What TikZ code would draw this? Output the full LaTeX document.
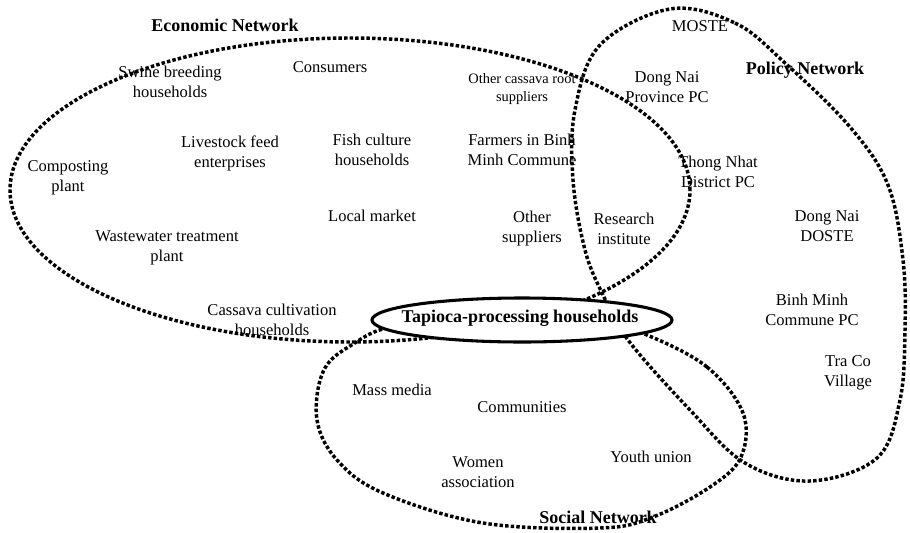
\documentclass[tikz,border=0pt]{standalone}
\usepackage{fontspec}
\setmainfont{Liberation Serif}
\usetikzlibrary{shapes.geometric}

\begin{document}
\begin{tikzpicture}[x=0.75pt,y=-0.75pt,
netloop/.style={line width=2.6pt,dash pattern=on 2.6pt off 1.6pt},
actor/.style={align=center,font=\fontsize{12.4}{15}\selectfont,inner sep=1pt},
netname/.style={font=\fontsize{13.5}{16}\selectfont\bfseries,inner sep=1pt}]
\useasboundingbox (0,0) rectangle (910,532);
% network boundaries
\draw[netloop] (350,190) ellipse [x radius=255pt,y radius=114pt];
\draw[netloop] plot[smooth cycle,tension=.6] coordinates {(670,9) (735,23) (785,63) (850,127) (888,185) (903,260) (905,330) (900,400) (877,458) (810,481) (745,463) (690,410) (628,340) (603,295) (585,250) (573,180) (575,110) (600,45)};
\draw[netloop] plot[smooth cycle,tension=.6] coordinates {(647,335) (707,367) (743,413) (741,457) (710,487) (653,517) (600,528) (483,523) (383,493) (337,460) (317,420) (323,372) (350,346) (400,325) (520,318) (600,322)};
\node[draw,ellipse,line width=2.3pt,fill=white,minimum width=225pt,minimum height=33pt,inner sep=0pt](tapioca) at (522,320){};
\node[netname] (tapiocatxt) at (520,318) {Tapioca-processing households};
% economic network
\node[netname] (econ) at (225,25) {Economic Network};
\node[actor] (swine) at (170,82) {Swine breeding\\households};
\node[actor] (consumers) at (330,67) {Consumers};
\node[actor,font=\fontsize{10.8}{14}\selectfont] (cassavaroot) at (522,89) {Other cassava root\\suppliers};
\node[actor] (livestock) at (230,153) {Livestock feed\\enterprises};
\node[actor] (fish) at (372,150) {Fish culture\\households};
\node[actor] (farmers) at (522,150) {Farmers in Binh\\Minh Commune};
\node[actor] (compost) at (68,178) {Composting\\plant};
\node[actor] (market) at (372,216) {Local market};
\node[actor] (wastewater) at (167,248) {Wastewater treatment\\plant};
\node[actor] (othersup) at (532,229) {Other\\suppliers};
\node[actor] (research) at (624,229) {Research\\institute};
\node[actor] (cassava) at (272,320) {Cassava cultivation\\households};
% policy network
\node[netname] (policy) at (805,70) {Policy Network};
\node[actor] (moste) at (700,26) {MOSTE};
\node[actor] (provpc) at (667,87) {Dong Nai\\Province PC};
\node[actor] (distpc) at (718,172) {Thong Nhat\\District PC};
\node[actor] (doste) at (827,226) {Dong Nai\\DOSTE};
\node[actor] (communepc) at (812,310) {Binh Minh\\Commune PC};
\node[actor] (traco) at (848,373) {Tra Co\\Village};
% social network
\node[netname] (social) at (598,517) {Social Network};
\node[actor] (media) at (392,390) {Mass media};
\node[actor] (communities) at (522,407) {Communities};
\node[actor] (women) at (478,472) {Women\\association};
\node[actor] (youth) at (651,457) {Youth union};
\end{tikzpicture}
\end{document}
